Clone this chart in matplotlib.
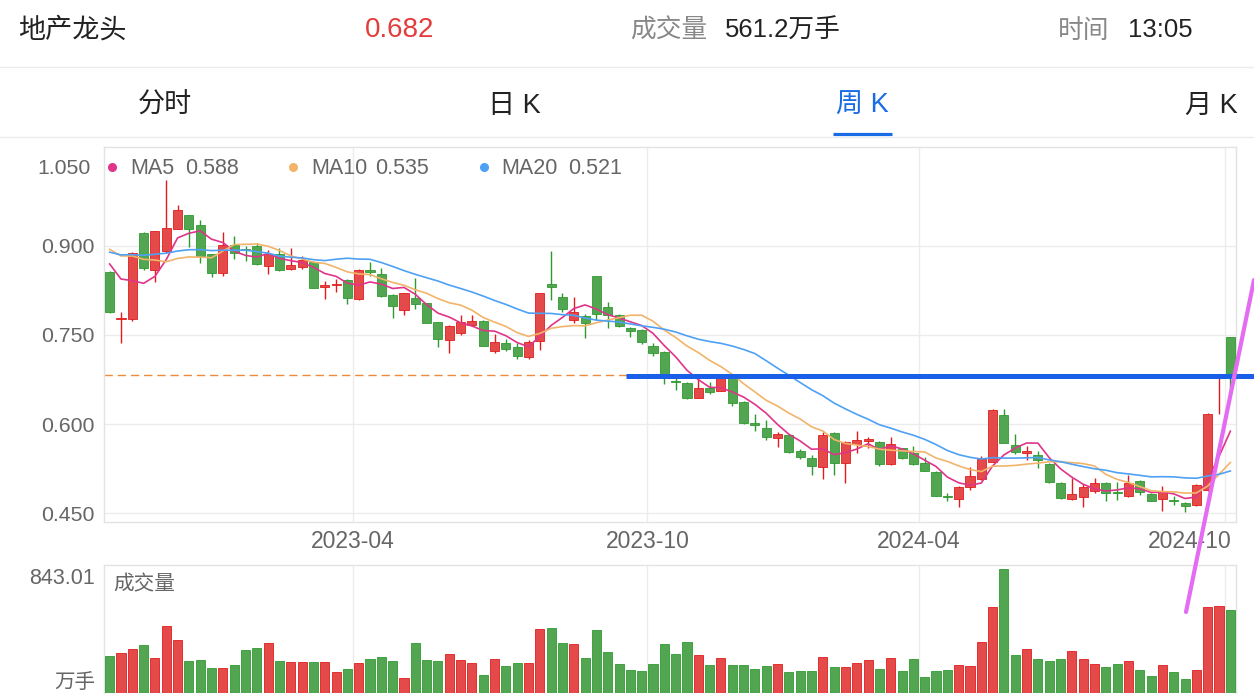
import matplotlib
matplotlib.use('Agg')
import matplotlib.pyplot as plt
import numpy as np
import pandas as pd
from matplotlib.lines import Line2D

plt.rcParams['font.family'] = ['Liberation Sans', 'Noto Sans CJK SC', 'DejaVu Sans']

# ---------------- data ----------------
title = '地产龙头'
quote_time = '13:05'
tabs = ['分时', '日 K', '周 K', '月 K']
active_tab = 2

opens = [0.856, 0.776, 0.777, 0.921, 0.859, 0.890, 0.928, 0.951, 0.934, 0.885,
         0.853, 0.901, 0.894, 0.900, 0.865, 0.886, 0.861, 0.864, 0.873, 0.831,
         0.833, 0.842, 0.810, 0.859, 0.852, 0.817, 0.791, 0.811, 0.803, 0.771,
         0.742, 0.753, 0.766, 0.774, 0.723, 0.736, 0.730, 0.713, 0.740, 0.835,
         0.814, 0.775, 0.782, 0.848, 0.796, 0.784, 0.761, 0.758, 0.731, 0.721,
         0.673, 0.669, 0.644, 0.660, 0.656, 0.678, 0.637, 0.601, 0.593, 0.577,
         0.581, 0.555, 0.543, 0.528, 0.585, 0.534, 0.567, 0.572, 0.570, 0.533,
         0.559, 0.552, 0.534, 0.520, 0.479, 0.474, 0.495, 0.507, 0.537, 0.616,
         0.565, 0.552, 0.548, 0.533, 0.501, 0.474, 0.478, 0.488, 0.501, 0.486,
         0.479, 0.505, 0.483, 0.474, 0.472, 0.468, 0.464, 0.489, 0.680, 0.746]
highs = [0.858, 0.788, 0.889, 0.922, 0.925, 1.010, 0.968, 0.952, 0.943, 0.886,
         0.923, 0.916, 0.899, 0.905, 0.892, 0.896, 0.896, 0.882, 0.874, 0.841,
         0.844, 0.843, 0.861, 0.872, 0.863, 0.818, 0.821, 0.846, 0.804, 0.772,
         0.767, 0.784, 0.784, 0.775, 0.752, 0.743, 0.737, 0.741, 0.821, 0.890,
         0.821, 0.813, 0.785, 0.849, 0.805, 0.785, 0.763, 0.759, 0.737, 0.722,
         0.680, 0.670, 0.677, 0.671, 0.684, 0.679, 0.638, 0.617, 0.607, 0.586,
         0.582, 0.558, 0.548, 0.586, 0.586, 0.572, 0.588, 0.579, 0.572, 0.578,
         0.560, 0.564, 0.544, 0.521, 0.485, 0.496, 0.528, 0.546, 0.625, 0.625,
         0.583, 0.563, 0.555, 0.534, 0.502, 0.509, 0.500, 0.510, 0.502, 0.502,
         0.514, 0.506, 0.484, 0.496, 0.479, 0.469, 0.499, 0.618, 0.683, 0.747]
lows = [0.786, 0.737, 0.774, 0.859, 0.839, 0.887, 0.927, 0.897, 0.871, 0.847,
        0.848, 0.877, 0.874, 0.868, 0.852, 0.857, 0.859, 0.861, 0.828, 0.810,
        0.822, 0.802, 0.809, 0.848, 0.814, 0.778, 0.783, 0.793, 0.769, 0.729,
        0.720, 0.750, 0.765, 0.731, 0.719, 0.723, 0.709, 0.709, 0.725, 0.809,
        0.789, 0.770, 0.744, 0.775, 0.761, 0.763, 0.747, 0.735, 0.715, 0.667,
        0.657, 0.642, 0.643, 0.651, 0.655, 0.631, 0.600, 0.588, 0.574, 0.562,
        0.552, 0.541, 0.515, 0.508, 0.515, 0.501, 0.551, 0.559, 0.530, 0.532,
        0.541, 0.532, 0.521, 0.479, 0.470, 0.461, 0.490, 0.506, 0.536, 0.568,
        0.549, 0.540, 0.526, 0.501, 0.474, 0.473, 0.460, 0.485, 0.470, 0.472,
        0.478, 0.481, 0.470, 0.454, 0.464, 0.453, 0.463, 0.488, 0.617, 0.646]
closes = [0.788, 0.778, 0.888, 0.863, 0.924, 0.929, 0.960, 0.927, 0.883, 0.854,
          0.901, 0.887, 0.892, 0.869, 0.885, 0.859, 0.868, 0.876, 0.829, 0.833,
          0.835, 0.811, 0.859, 0.856, 0.815, 0.798, 0.820, 0.801, 0.770, 0.743,
          0.765, 0.772, 0.774, 0.732, 0.738, 0.726, 0.715, 0.738, 0.820, 0.830,
          0.793, 0.789, 0.769, 0.785, 0.783, 0.765, 0.757, 0.738, 0.719, 0.680,
          0.671, 0.644, 0.660, 0.654, 0.677, 0.635, 0.601, 0.599, 0.579, 0.583,
          0.553, 0.544, 0.530, 0.582, 0.534, 0.570, 0.574, 0.575, 0.533, 0.566,
          0.543, 0.533, 0.522, 0.480, 0.477, 0.495, 0.512, 0.541, 0.624, 0.569,
          0.553, 0.554, 0.540, 0.502, 0.475, 0.483, 0.495, 0.501, 0.484, 0.484,
          0.501, 0.486, 0.471, 0.486, 0.470, 0.462, 0.498, 0.617, 0.681, 0.682]
# weekly volume, 万手
volumes = [254, 274, 301, 326, 238, 458, 362, 220, 224, 172,
           170, 190, 290, 308, 338, 220, 213, 211, 213, 213,
           145, 165, 202, 231, 245, 218, 102, 340, 222, 220,
           263, 222, 202, 122, 229, 182, 206, 204, 437, 440,
           340, 335, 236, 426, 277, 195, 156, 152, 195, 333,
           267, 345, 260, 188, 236, 192, 192, 165, 186, 195,
           143, 150, 148, 245, 177, 177, 202, 224, 165, 240,
           148, 231, 107, 152, 154, 188, 182, 349, 585, 843.01,
           260, 299, 229, 216, 229, 286, 229, 195, 175, 199,
           220, 154, 118, 190, 143, 97, 158, 585, 592, 561.2]
# closes of the 19 weeks before the visible window (feed the moving averages)
prior_closes = [0.870, 0.878, 0.885, 0.890, 0.892, 0.888, 0.884, 0.880, 0.886, 0.887,
                0.890, 0.888, 0.919, 0.936, 0.958, 0.9045, 0.9015, 0.8855, 0.8655]

ma_periods = [5, 10, 20]
ma_colors = ['#e0348a', '#f2b46a', '#4ea1f5']

date_tick_pos = [21.5, 47.5, 71.5, 98.5]
date_tick_labels = ['2023-04', '2023-10', '2024-04', '2024-10']
price_ticks = [0.45, 0.60, 0.75, 0.90]
price_top_label = '1.050'
price_lim = (0.4355, 1.0655)
vol_lim = (0, 870)

# annotation marks drawn on the screenshot
blue_mark_price = 0.680
blue_mark_x = (45.6, 101.1)
pink_mark_px = [(1186, 612), (1254, 280)]

# ---------------- figure ----------------
W, H = 1254, 700
fig = plt.figure(figsize=(W / 100, H / 100), dpi=100)
fig.patch.set_facecolor('white')

def fx(x):
    return x / W

def fy(y):
    return 1 - y / H

UP_FILL, UP_EDGE = '#e44a4a', '#e01c1c'
DN_FILL, DN_EDGE = '#52a652', '#2e9a2e'
GRID = '#ececec'
BORDER = '#e3e3e3'
LABEL = '#666666'

# header
hy = 31
fig.text(fx(18), fy(hy), title, fontsize=19.5, color='#222222', va='center', ha='left')
fig.text(fx(400), fy(hy - 1), f'{closes[-1]:.3f}', fontsize=20, color='#e43b3b', va='center', ha='center')
fig.text(fx(630), fy(hy), '成交量', fontsize=18.5, color='#888888', va='center', ha='left')
fig.text(fx(725), fy(hy), f'{volumes[-1]:.1f}万手', fontsize=18.5, color='#222222', va='center', ha='left')
fig.text(fx(1058), fy(hy), '时间', fontsize=18.5, color='#888888', va='center', ha='left')
fig.text(fx(1128), fy(hy - 1), quote_time, fontsize=18.5, color='#222222', va='center', ha='left')
fig.add_artist(Line2D([0, 1], [fy(67), fy(67)], color='#ececec', lw=1, transform=fig.transFigure))

tab_centers = [165, 514, 862, 1211]
for i, (t, cx) in enumerate(zip(tabs, tab_centers)):
    fig.text(fx(cx), fy(106), t, fontsize=19.5, ha='center', va='center',
             color='#1a6be6' if i == active_tab else '#222222')
fig.add_artist(Line2D([fx(833), fx(892)], [fy(133.5), fy(133.5)], color='#1a6be6', lw=2.3,
                      transform=fig.transFigure, solid_capstyle='butt'))
fig.add_artist(Line2D([0, 1], [fy(137), fy(137)], color='#ececec', lw=1, transform=fig.transFigure))

# ---------------- price panel ----------------
ax = fig.add_axes([fx(104), fy(522), (1236 - 104) / W, (522 - 147) / H])
n = len(closes)
x = np.arange(n)
o = np.array(opens); c = np.array(closes); h = np.array(highs); l = np.array(lows)
up = c >= o

ax.set_xlim(-0.5, n - 0.5)
ax.set_ylim(*price_lim)
ax.set_yticks(price_ticks)
ax.set_yticklabels([f'{v:.3f}' for v in price_ticks])
ax.set_xticks(date_tick_pos)
ax.set_xticklabels([])
ax.tick_params(axis='both', length=0, labelsize=15.3, labelcolor=LABEL, pad=6.5)
ax.grid(True, color=GRID, lw=1)
ax.set_axisbelow(True)
for s in ax.spines.values():
    s.set_color(BORDER)
    s.set_linewidth(1)

# current price dashed line
ax.axhline(c[-1], color='#ee8a3c', lw=1.0, dashes=(6, 3.5), zorder=1.5)

# candles
body_bottom = np.minimum(o, c)
body_h = np.maximum(np.abs(c - o), 0.0022)
for cond, fill, edge in [(up, UP_FILL, UP_EDGE), (~up, DN_FILL, DN_EDGE)]:
    ax.vlines(x[cond], l[cond], h[cond], color=edge, lw=1.0, zorder=2)
    ax.bar(x[cond], body_h[cond], bottom=body_bottom[cond], width=0.8,
           color=fill, edgecolor=edge, linewidth=0.6, zorder=3)

# moving averages
full = pd.Series(prior_closes + closes)
ma_vals = []
for p, col in zip(ma_periods, ma_colors):
    ma = full.rolling(p).mean().to_numpy()[-n:]
    ma_vals.append(ma[-1])
    ax.plot(x, ma, color=col, lw=1.2, zorder=4)

# top price label and date labels
ax.text(-0.012, 0.944, price_top_label, transform=ax.transAxes, ha='right', va='center',
        fontsize=15.3, color=LABEL)
xt = ax.get_xaxis_transform()
for pos, lab in zip(date_tick_pos[:-1], date_tick_labels[:-1]):
    ax.text(pos, -0.051, lab, transform=xt, ha='center', va='center', fontsize=16.5, color=LABEL)
ax.text(0.9965, -0.051, date_tick_labels[-1], transform=ax.transAxes, ha='right', va='center',
        fontsize=16.5, color=LABEL)

# legend
leg_dots = [112, 293, 484]
leg_names = [130, 311, 501]
leg_vals = [185, 375, 568]
for p, col, mv, dx, nx, vx in zip(ma_periods, ma_colors, ma_vals, leg_dots, leg_names, leg_vals):
    fig.add_artist(Line2D([fx(dx)], [fy(167)], marker='o', ms=5.5, color=col, lw=0,
                          transform=fig.transFigure))
    fig.text(fx(nx), fy(168.5), f'MA{p}', fontsize=15.5, color=LABEL, va='center', ha='left')
    fig.text(fx(vx), fy(168.5), f'{mv:.3f}', fontsize=15.5, color=LABEL, va='center', ha='left')

# blue annotation line
ax.plot(blue_mark_x, [blue_mark_price, blue_mark_price], color='#1a5fe8', lw=3.6,
        solid_capstyle='butt', clip_on=False, zorder=6)

# ---------------- volume panel ----------------
vax = fig.add_axes([fx(104), fy(693), (1236 - 104) / W, (693 - 565) / H])
vax.set_xlim(-0.5, n - 0.5)
vax.set_ylim(*vol_lim)
v = np.array(volumes)
vax.bar(x[up], v[up], width=0.8, color=UP_FILL, edgecolor=UP_EDGE, linewidth=0.6, zorder=3)
vax.bar(x[~up], v[~up], width=0.8, color=DN_FILL, edgecolor=DN_EDGE, linewidth=0.6, zorder=3)
vax.set_xticks(date_tick_pos)
vax.set_yticks([])
vax.set_xticklabels([])
vax.tick_params(length=0)
vax.grid(True, axis='x', color=GRID, lw=1)
vax.set_axisbelow(True)
for s in vax.spines.values():
    s.set_color(BORDER)
    s.set_linewidth(1)
vax.spines['bottom'].set_visible(False)

fig.text(fx(95), fy(578), f'{max(volumes):.2f}', fontsize=15.5, color=LABEL, ha='right', va='center')
fig.text(fx(95), fy(683), '万手', fontsize=14.8, color=LABEL, ha='right', va='center')
fig.text(fx(113), fy(585), '成交量', fontsize=14.9, color=LABEL, ha='left', va='center')

# pink annotation stroke
(px0, py0), (px1, py1) = pink_mark_px
fig.add_artist(Line2D([fx(px0), fx(px1)], [fy(py0), fy(py1)], color='#e46cf2', lw=3.0,
                      solid_capstyle='round', transform=fig.transFigure, zorder=10))

fig.savefig('out.png', dpi=100)
